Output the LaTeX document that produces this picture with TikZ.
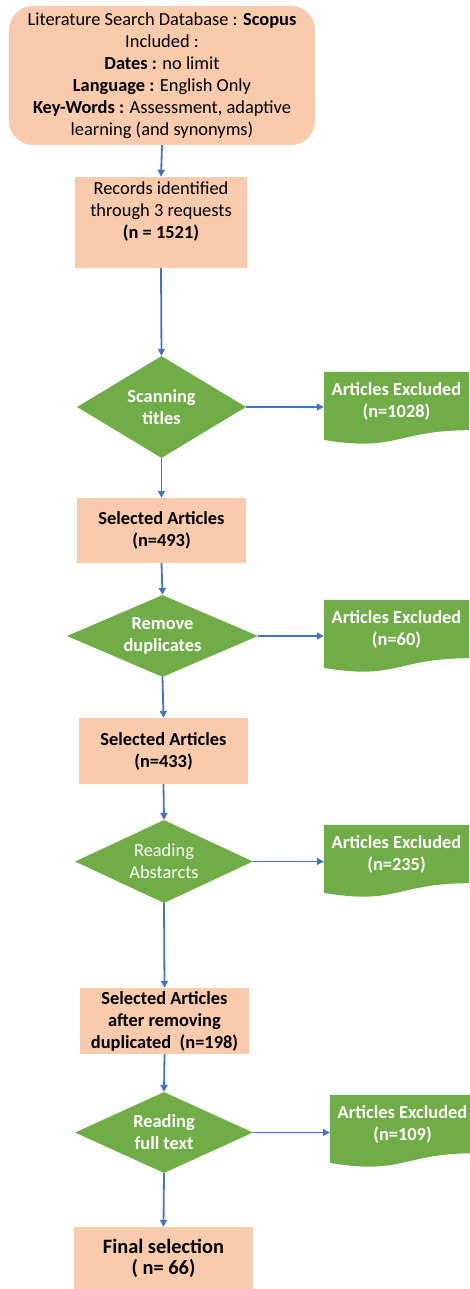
\documentclass[tikz,border=0pt]{standalone}
\usepackage{fontspec}
\setmainfont{Carlito}
\usetikzlibrary{shapes.geometric,arrows.meta,backgrounds,calc}
\definecolor{peach}{HTML}{F8CBAD}
\definecolor{leaf}{HTML}{70AD47}
\definecolor{linkblue}{HTML}{4472C4}
\newcommand\flowfont{\fontsize{18.4}{22}\selectfont}

\begin{document}
\begin{tikzpicture}[x=1pt,y=-1pt,
  every node/.style={font=\flowfont,align=center,inner sep=0},
  stagebox/.style={fill=peach,minimum width=169,minimum height=66},
  decision/.style={diamond,fill=leaf,text=white,shape aspect=2.15,minimum width=178,minimum height=83},
  excl/.style={text=white,font=\flowfont\bfseries,minimum width=145,minimum height=58},
  link/.style={draw=linkblue,line width=1.8,-{Triangle[length=7pt,width=7pt]}}]
\useasboundingbox (0,0) rectangle (469,1289);

\node[fill=peach,rounded corners=24,minimum width=306,minimum height=139] (src) at (162,75.5)
  {Literature Search Database : \textbf{Scopus}\\ Included :\\ \textbf{Dates :} no limit\\
   \textbf{Language :} English Only\\ \textbf{Key-Words :} Assessment, adaptive\\ learning (and synonyms)};
\node[stagebox,minimum width=172,minimum height=91,text depth=24] (rec) at (161,222.5)
  {Records identified\\ through 3 requests\\ \textbf{(n = 1521)}};

\node[decision,font=\flowfont\bfseries,shape aspect=1.66,minimum width=169,minimum height=102] (scan) at (161.5,407) {Scanning\\ titles};
\node[excl] (ex1) at (396.5,401) {Articles Excluded\\ (n=1028)};

\node[stagebox,minimum height=65,font=\flowfont\bfseries] (sel1) at (161.5,530.5) {Selected Articles\\ (n=493)};

\node[decision,font=\flowfont\bfseries,shape aspect=2.33,minimum width=191,minimum height=82] (dup) at (162.5,636) {Remove\\ duplicates};
\node[excl] (ex2) at (396.5,629) {Articles Excluded\\ (n=60)};

\node[stagebox,font=\flowfont\bfseries] (sel2) at (163.5,751) {Selected Articles\\ (n=433)};

\node[decision] (abs) at (164,861.5) {Reading\\ Abstarcts};
\node[excl] (ex3) at (396.5,854) {Articles Excluded\\ (n=235)};

\node[stagebox,font=\flowfont\bfseries] (sel3) at (164.5,1021)
  {Selected Articles\\ after removing\\ duplicated~~(n=198)};

\node[decision,font=\flowfont\bfseries,minimum height=81] (full) at (164,1132.5) {Reading\\ full text};
\node[excl] (ex4) at (402.5,1124) {Articles Excluded\\ (n=109)};

\node[fill=peach,minimum width=179,minimum height=62,font=\fontsize{20.4}{21}\selectfont\bfseries] (final) at (163.5,1258)
  {Final selection\\ ( n= 66)};

% wavy "document" shapes behind the excluded counts
\begin{scope}[on background layer]
\foreach \n in {ex1,ex2,ex3,ex4}
  \fill[leaf] (\n.north west) -- (\n.north east) -- ($(\n.north east)+(0,58.4)$)
    .. controls ($(\n.north)+(0,58.4)$) and ($(\n.north)+(0,80.6)$) .. ($(\n.north west)+(0,68)$) -- cycle;
\end{scope}

\draw[link] (src.south) -- (rec.north);
\draw[link] (rec.south) -- (scan.north);
\draw[link] (scan.east) -- (scan.east -| ex1.west);
\draw[link] (scan.south) -- (sel1.north);
\draw[link] (sel1.south) -- (dup.north);
\draw[link] (dup.east) -- (dup.east -| ex2.west);
\draw[link] (dup.south) -- (sel2.north);
\draw[link] (sel2.south) -- (abs.north);
\draw[link] (abs.east) -- (abs.east -| ex3.west);
\draw[link] (abs.south) -- (sel3.north);
\draw[link] (sel3.south) -- (full.north);
\draw[link] (full.east) -- (full.east -| ex4.west);
\draw[link] (full.south) -- (final.north);
\end{tikzpicture}
\end{document}
